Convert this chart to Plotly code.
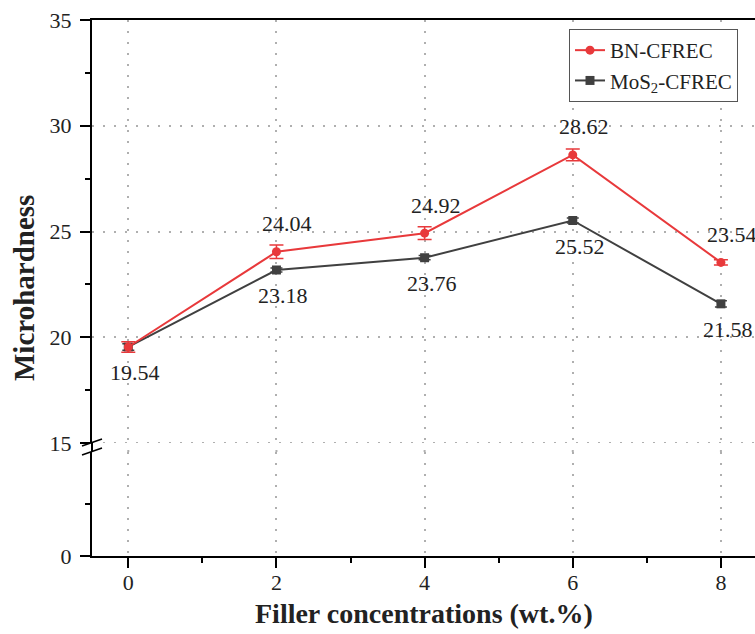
import plotly.graph_objects as go

# Filler loading (wt.%) and measured microhardness
filler = [0, 2, 4, 6, 8]
bn_hardness = [19.54, 24.04, 24.92, 28.62, 23.54]
bn_error = [0.25, 0.32, 0.30, 0.28, 0.12]
mos2_hardness = [19.54, 23.18, 23.76, 25.52, 21.58]
mos2_error = [0.15, 0.10, 0.10, 0.12, 0.15]
series_names = ["BN-CFREC", "MoS<sub>2</sub>-CFREC"]

x_ticks = [0, 2, 4, 6, 8]
x_minor = [1, 3, 5, 7]
upper_ticks = [15, 20, 25, 30, 35]
upper_minor = [17.5, 22.5, 27.5, 32.5]
lower_ticks = [0]
lower_minor = [7.5]
break_value = 15

RED = "#E8393B"
DARK = "#404040"
GRID = "#AFAFAF"
FONT = "Liberation Serif"
TXT = "#222222"
W, H = 755, 634
L, R, T, B = 92, 0, 20, 78
plot_h = H - T - B
lower_dom = [0, 104 / plot_h]
upper_dom = [113 / plot_h, 1]
x_range = [-0.49, 8.46]

fig = go.Figure()

# Empty trace so the lower (0-15) segment of the broken axis is drawn
fig.add_trace(go.Scatter(x=[], y=[], xaxis="x", yaxis="y", showlegend=False,
                         hoverinfo="skip"))

fig.add_trace(go.Scatter(
    x=filler, y=mos2_hardness, name=series_names[1],
    mode="lines+markers", xaxis="x2", yaxis="y2",
    line=dict(color=DARK, width=2),
    marker=dict(symbol="square", size=9, color=DARK),
    error_y=dict(type="data", array=mos2_error, color=DARK, thickness=1.5, width=6),
))
fig.add_trace(go.Scatter(
    x=filler, y=bn_hardness, name=series_names[0],
    mode="lines+markers", xaxis="x2", yaxis="y2",
    line=dict(color=RED, width=2),
    marker=dict(symbol="circle", size=9, color=RED),
    error_y=dict(type="data", array=bn_error, color=RED, thickness=1.5, width=7),
))

grid = dict(showgrid=True, gridcolor=GRID, gridwidth=2, griddash="2px,9px")
tickfont = dict(family=FONT, size=22, color=TXT)

fig.update_layout(
    width=W, height=H,
    margin=dict(l=L, r=R, t=T, b=B),
    paper_bgcolor="white", plot_bgcolor="white",
    font=dict(family=FONT, color=TXT),
    xaxis=dict(
        anchor="y", domain=[0, 1], range=x_range,
        tickvals=x_ticks, ticks="outside", ticklen=10, tickwidth=2, tickcolor="black",
        minor=dict(tickvals=x_minor, ticks="outside", ticklen=5, tickwidth=2,
                   tickcolor="black", showgrid=False),
        showline=True, linecolor="black", linewidth=2, ticklabelstandoff=-4,
        tickfont=tickfont, zeroline=False, **grid,
    ),
    xaxis2=dict(
        anchor="y2", side="top", range=x_range,
        tickvals=x_ticks, showticklabels=False, ticks="",
        showline=True, linecolor="black", linewidth=2, zeroline=False, **grid,
    ),
    yaxis=dict(
        anchor="x", domain=lower_dom, range=[0, 15],
        tickvals=lower_ticks, ticks="outside", ticklen=10, tickwidth=2, tickcolor="black",
        minor=dict(tickvals=lower_minor, ticks="outside", ticklen=5, tickwidth=2,
                   tickcolor="black", showgrid=False),
        showline=True, linecolor="black", linewidth=2, showgrid=False,
        zeroline=False, tickfont=tickfont, ticklabelstandoff=4,
    ),
    yaxis2=dict(
        anchor="x2", domain=upper_dom, range=[15, 35],
        tickvals=upper_ticks, ticks="outside", ticklen=10, tickwidth=2, tickcolor="black",
        minor=dict(tickvals=upper_minor, ticks="outside", ticklen=5, tickwidth=2,
                   tickcolor="black", showgrid=False),
        showline=True, linecolor="black", linewidth=2, ticklabelstandoff=4,
        zeroline=False, tickfont=tickfont, **grid,
    ),
    legend=dict(
        x=(569 - L) / (W - L - R), y=(H - B - 29) / plot_h,
        xanchor="left", yanchor="top",
        bgcolor="white", bordercolor="#555555", borderwidth=1,
        font=dict(family=FONT, size=21, color=TXT),
        traceorder="reversed", tracegroupgap=0,
    ),
    showlegend=True,
)

# Value labels: BN above each point, MoS2 below (one label where both coincide)
label_font = dict(family=FONT, size=22, color=TXT)
annotations = []
for xv, yb, ym in zip(filler, bn_hardness, mos2_hardness):
    if yb != ym:
        annotations.append(dict(x=xv, y=yb, xref="x2", yref="y2", text=f"{yb:.2f}",
                                showarrow=False, xshift=11, yshift=28, font=label_font))
    annotations.append(dict(x=xv, y=ym, xref="x2", yref="y2", text=f"{ym:.2f}",
                            showarrow=False, xshift=7, yshift=-26, font=label_font))

# Axis titles
annotations.append(dict(x=0.5, y=0, xref="paper", yref="paper", yshift=-57,
                        xanchor="center", yanchor="middle",
                        text="<b>Filler concentrations (wt.%)</b>", showarrow=False,
                        font=dict(family=FONT, size=28, color=TXT)))
annotations.append(dict(x=0, y=0.5, xref="paper", yref="paper", xshift=-68,
                        xanchor="center", yanchor="middle",
                        text="<b>Microhardness</b>", showarrow=False, textangle=-90,
                        font=dict(family=FONT, size=29, color=TXT)))
fig.update_layout(annotations=annotations)

shapes = [
    # dotted grid line along the bottom of the upper segment
    dict(type="line", xref="paper", yref="y2", x0=0, x1=1,
         y0=break_value, y1=break_value, layer="below",
         line=dict(color=GRID, width=2, dash="2px,9px")),
    # join the two y-axis segments
    dict(type="line", xref="paper", yref="paper", x0=0, x1=0,
         y0=lower_dom[1], y1=upper_dom[0], line=dict(color="black", width=2)),
]
# vertical grid lines continue through the break gap
for xv in x_ticks:
    shapes.append(dict(type="line", xref="x", yref="paper", x0=xv, x1=xv,
                       y0=lower_dom[1], y1=upper_dom[0], layer="below",
                       line=dict(color=GRID, width=2, dash="2px,9px")))
# break marks on the y axis
for y0, y1 in [(-3, 4), (-12, -5)]:
    shapes.append(dict(type="line", xref="paper", yref="paper",
                       xsizemode="pixel", xanchor=0, x0=-10, x1=10,
                       ysizemode="pixel", yanchor=upper_dom[0], y0=y0, y1=y1,
                       line=dict(color="black", width=1.5)))
fig.update_layout(shapes=shapes)

fig.write_html("out.html")
